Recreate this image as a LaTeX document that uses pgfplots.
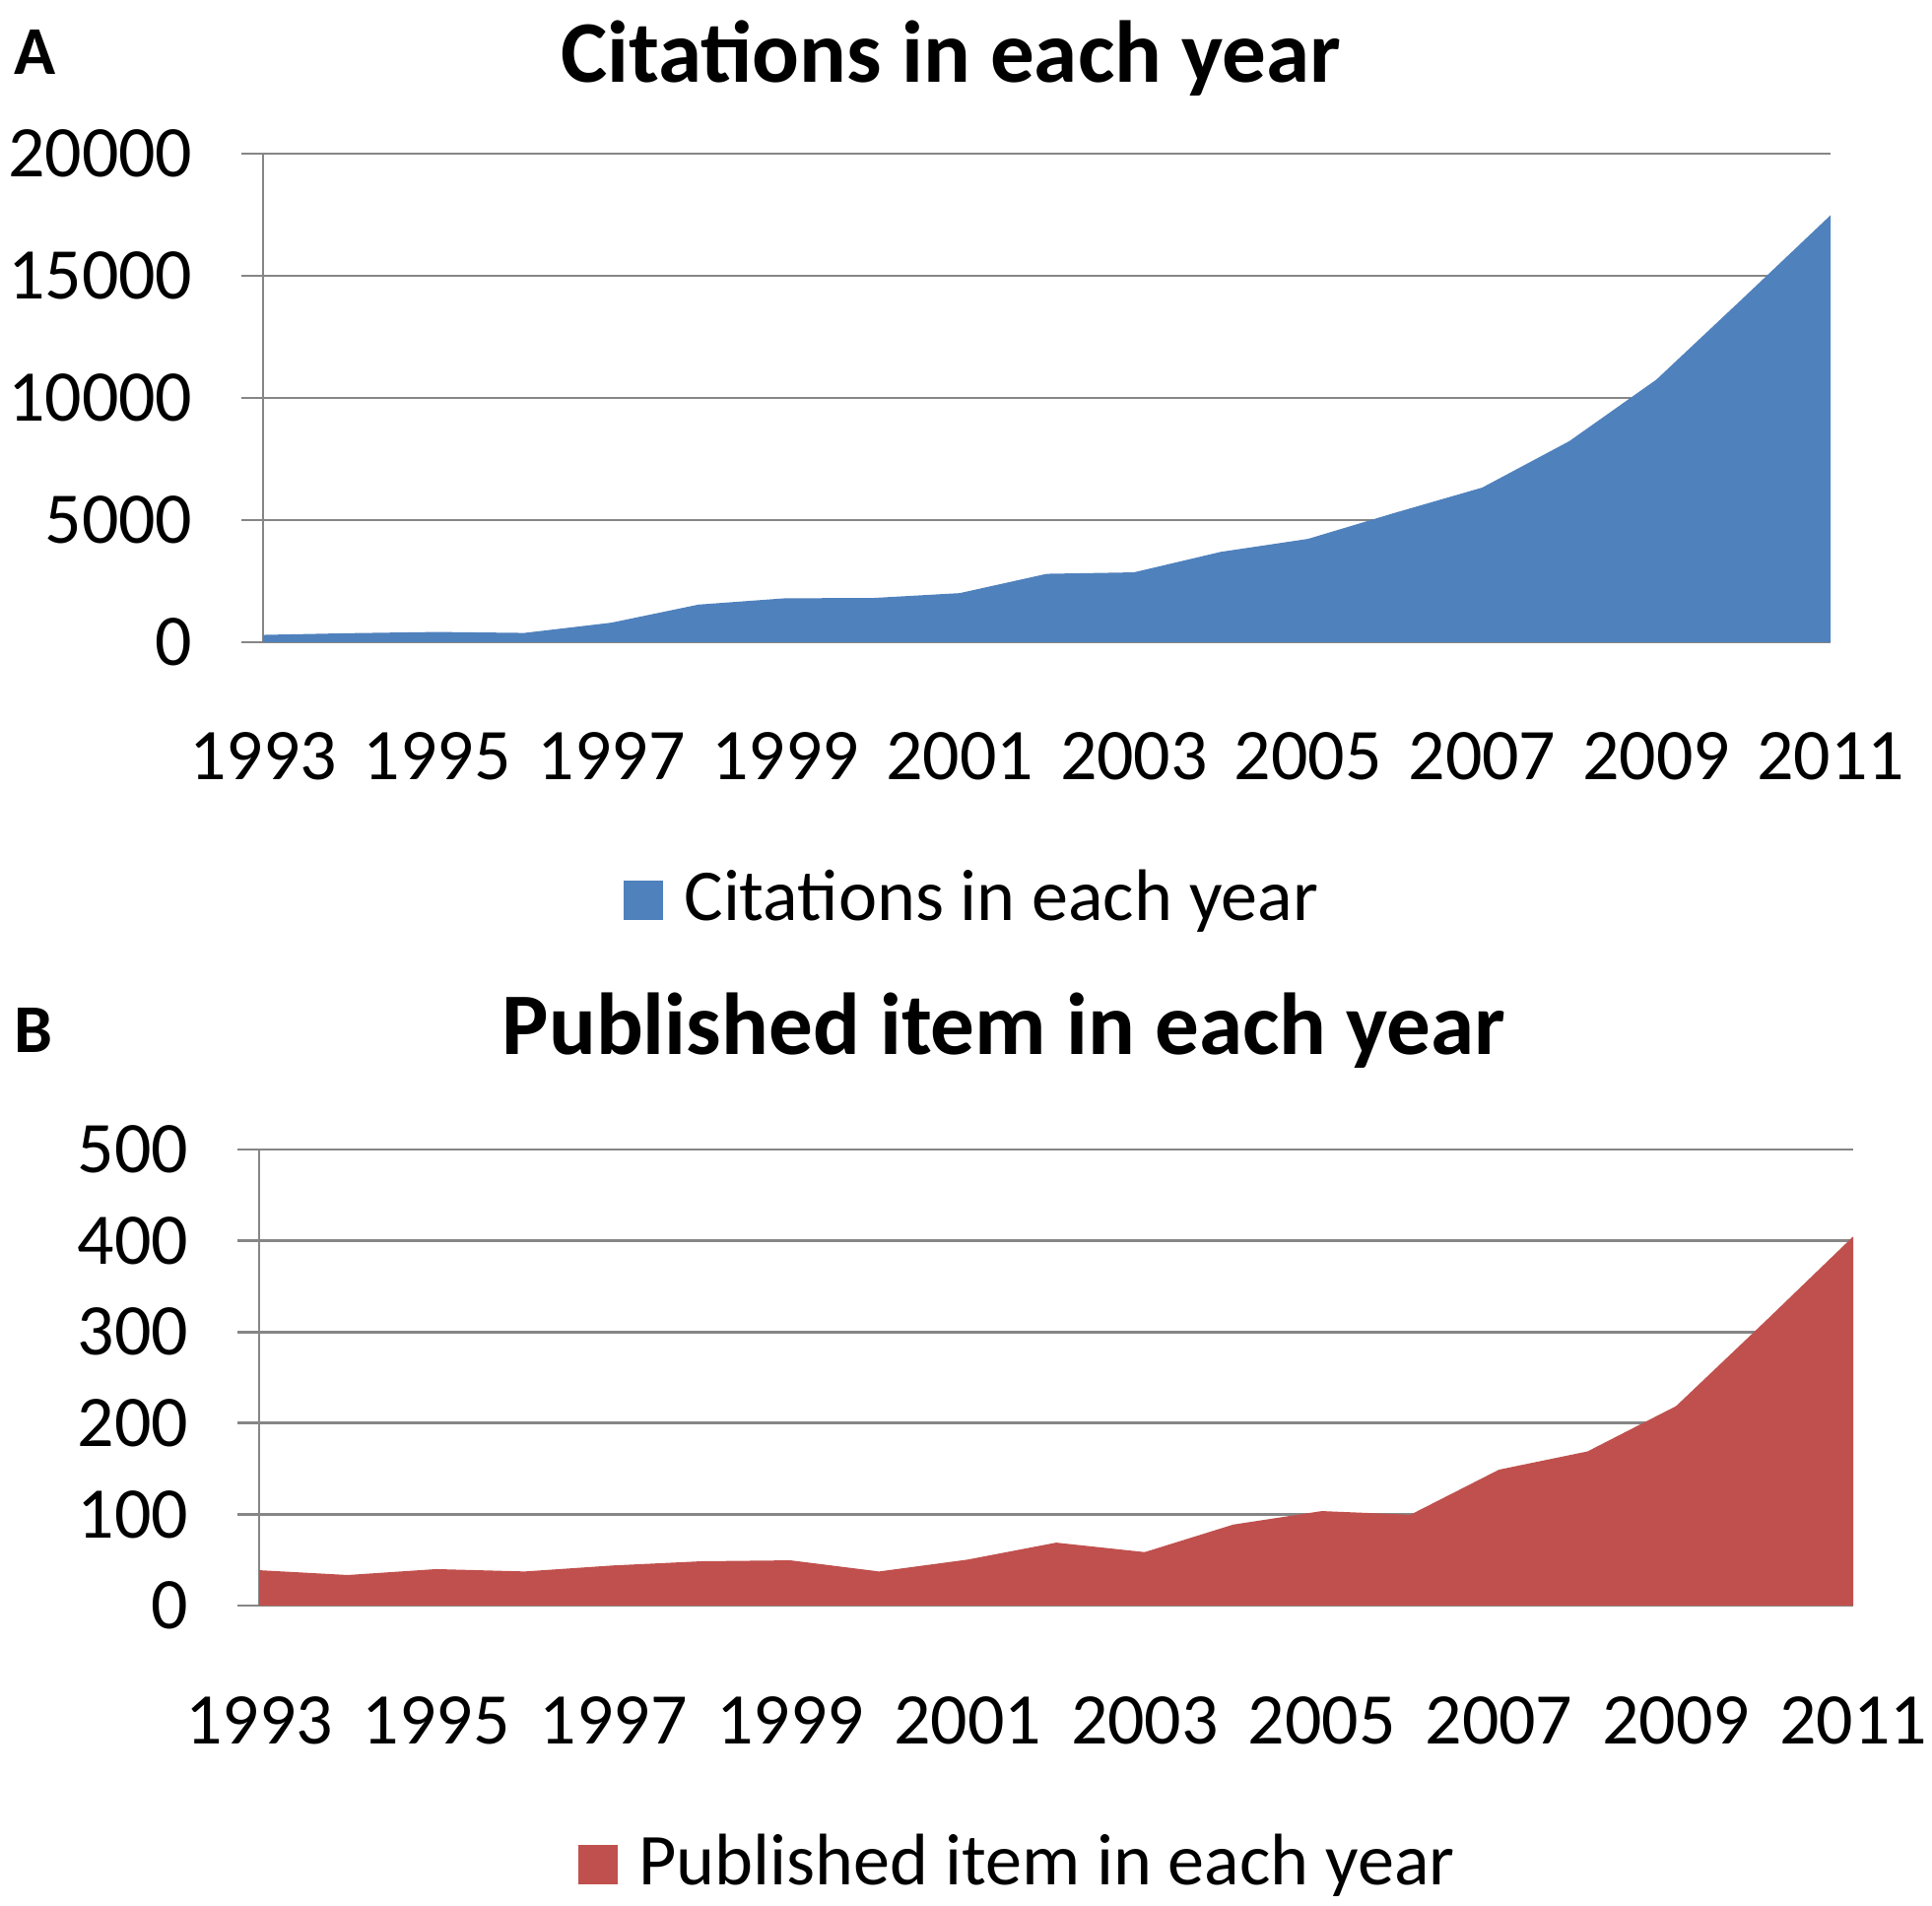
\documentclass[border=0pt]{standalone}
\usepackage{fontspec}
\setmainfont{Carlito}
\usepackage{pgfplots}
\pgfplotsset{compat=1.18}
\definecolor{xlblue}{RGB}{79,129,189}
\definecolor{xlred}{RGB}{192,80,77}
\definecolor{xlgrid}{RGB}{134,134,134}
\newcommand{\tickfont}{\fontsize{26.6}{31}\selectfont}
\newcommand{\legfont}{\fontsize{26.7}{31}\selectfont}
\pgfplotsset{
 xlstyle/.style={
  scale only axis,
  axis x line*=bottom, axis y line*=left,
  axis line style={xlgrid, line width=0.95pt},
  ymajorgrids, grid style={xlgrid, line width=0.95pt},
  tick align=outside, major tick length=7.9pt,
  xtick style={draw=none}, ytick style={xlgrid, line width=0.95pt},
  xmin=1993, xmax=2011, xtick={1993,1995,...,2011},
  /pgf/number format/assume math mode=true,
  /pgf/number format/1000 sep={},
  scaled y ticks=false,
  ticklabel style={font=\tickfont},
  x tick label style={anchor=base, yshift=-42.5pt},
  y tick label style={anchor=east, inner sep=0pt, xshift=-17.7pt},
  legend style={draw=none, fill=none, inner sep=0pt, font=\legfont,
    cells={anchor=base west}, nodes={inner sep=0pt, text depth=0pt}, column sep=7.9pt},
  legend image code/.code={\fill[##1] (0pt,0pt) rectangle (14.4pt,14.4pt);},
 }
}
\begin{document}
\begin{tikzpicture}
\path[use as bounding box] (0pt,0pt) rectangle (705.96pt,696.24pt);
\node[anchor=base west, inner sep=0pt, font=\bfseries\fontsize{25}{30}\selectfont] at (5.0pt,668.9pt) {A};
\node[anchor=base, inner sep=0pt, font=\bfseries\fontsize{32.1}{38}\selectfont] at (347.4pt,666.0pt) {Citations in each year};
\node[anchor=base west, inner sep=0pt, font=\bfseries\fontsize{25}{30}\selectfont] at (5.0pt,311.4pt) {B};
\node[anchor=base, inner sep=0pt, font=\bfseries\fontsize{32.1}{38}\selectfont] at (366.84pt,310.7pt) {Published item in each year};

\begin{axis}[xlstyle,
  at={(96.12pt,461.52pt)}, anchor=south west,
  width=572.76pt, height=178.56pt,
  ymin=0, ymax=20000, ytick={0,5000,10000,15000,20000},
  legend style={at={(0.2294,-0.5706)}, anchor=south west}]
\addplot[fill=xlblue, draw=none] coordinates {
 (1993,300) (1994,370) (1995,420) (1996,380) (1997,800) (1998,1540)
 (1999,1800) (2000,1810) (2001,2010) (2002,2800) (2003,2860) (2004,3700)
 (2005,4230) (2006,5300) (2007,6330) (2008,8230) (2009,10750) (2010,14100)
 (2011,17480)} \closedcycle;
\addlegendentry{Citations in each year}
\end{axis}

\begin{axis}[xlstyle,
  at={(94.68pt,109.44pt)}, anchor=south west,
  width=582.48pt, height=166.68pt,
  ymin=0, ymax=500, ytick={0,100,200,300,400,500},
  legend style={at={(0.1996,-0.6134)}, anchor=south west}]
\addplot[fill=xlred, draw=none] coordinates {
 (1993,38.8) (1994,33.5) (1995,40) (1996,37.4) (1997,44) (1998,48.6)
 (1999,49.6) (2000,37.4) (2001,50.4) (2002,69) (2003,58.6) (2004,88.8)
 (2005,103.6) (2006,99.6) (2007,149) (2008,169) (2009,218.7) (2010,311)
 (2011,404.7)} \closedcycle;
\addlegendentry{Published item in each year}
\end{axis}
\end{tikzpicture}
\end{document}
